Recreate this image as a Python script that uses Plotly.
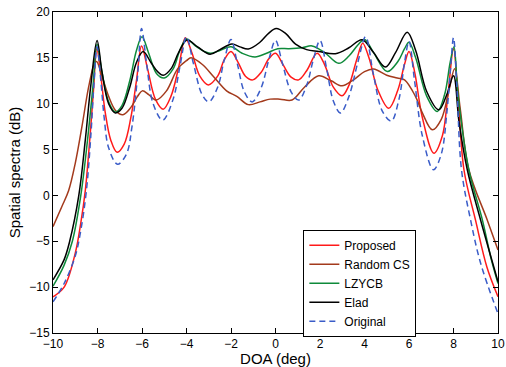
import plotly.graph_objects as go

# ---- data ----
orig_x = [-10, -9.5, -9.0, -8.75, -8.5, -8.3, -8.15, -8.02, -7.85, -7.7, -7.5, -7.1, -6.7, -6.45, -6.2, -6.02,
          -5.8, -5.5, -5.07, -4.6, -4.3, -4.0, -3.7, -3.3, -3.0, -2.6, -2.3, -2.0, -1.7, -1.4, -1.05, -0.65,
          -0.3, 0.0, 0.3, 0.7, 1.04, 1.4, 1.7, 2.0, 2.3, 2.6, 2.92, 3.3, 3.7, 4.05, 4.4, 4.8, 5.2, 5.55, 5.8,
          6.0, 6.25, 6.6, 7.1, 7.45, 7.7, 7.87, 8.0, 8.15, 8.36, 8.77, 9.22, 10]
orig_y = [-11.6, -9.6, -6.6, -3.8, 0.5, 6.5, 12.5, 16.2, 12.5, 8.5, 5.2, 3.4, 4.5, 7.5, 13.0, 18.2,
          14.5, 10.0, 8.2, 10.5, 14.0, 17.3, 14.5, 11.0, 10.2, 11.8, 14.8, 17.0, 14.2, 11.3, 10.2, 11.7,
          14.8, 16.9, 14.5, 11.3, 10.4, 12.0, 14.8, 16.9, 13.8, 10.3, 9.0, 10.8, 14.5, 17.3, 13.2, 9.2, 8.1, 10.5, 14.5,
          16.8, 12.5, 6.5, 2.8, 4.5, 9.0, 14.0, 17.2, 12.0, 2.8, -2.7, -7.4, -12.9]

prop_x = [-10, -9.5, -9.0, -8.75, -8.55, -8.35, -8.18, -8.03, -7.85, -7.65, -7.4, -7.12, -6.8, -6.5, -6.25, -6.02,
          -5.75, -5.4, -5.05, -4.7, -4.35, -4.05, -3.75, -3.4, -3.02, -2.6, -2.3, -2.0, -1.7, -1.35, -1.02, -0.65,
          -0.3, 0.0, 0.35, 0.7, 1.04, 1.4, 1.87, 2.2, 2.6, 2.99, 3.3, 3.65, 3.92, 4.2, 4.6, 5.09, 5.5, 5.8, 6.0,
          6.25, 6.6, 7.12, 7.5, 7.75, 8.0, 8.2, 8.47, 8.99, 9.5, 10]
prop_y = [-11.05, -10.0, -6.3, -3.0, 0.5, 6.0, 11.5, 16.0, 13.0, 9.0, 6.0, 4.7, 5.6, 8.5, 12.5, 16.3,
          13.8, 10.5, 9.4, 10.8, 14.0, 17.2, 15.5, 13.0, 12.05, 13.0, 14.8, 15.7, 14.6, 13.0, 12.6, 13.4,
          14.9, 15.5, 14.2, 12.9, 12.6, 13.6, 15.5, 14.3, 11.8, 10.86, 12.0, 14.8, 16.6, 15.0, 11.5, 9.5, 11.5, 14.3, 15.7,
          13.5, 8.5, 4.6, 6.5, 11.0, 16.0, 11.0, 2.8, -2.7, -7.8, -11.05]

rand_x = [-10, -9.6, -9.3, -9.0, -8.7, -8.4, -8.15, -8.04, -7.8, -7.5, -7.2, -6.86, -6.5, -6.2, -5.99, -5.7,
          -5.36, -4.9, -4.4, -4.0, -3.8, -3.3, -2.79, -2.2, -1.74, -1.22, -0.7, -0.24, 0.2, 0.74, 1.3, 1.94,
          2.5, 2.99, 3.5, 4.0, 4.41, 5.0, 5.47, 5.8, 6.29, 6.6, 7.05, 7.45, 7.8, 8.05, 8.3, 8.69, 9.52, 10]
rand_y = [-3.4, -1.2, 0.5, 3.5, 7.5, 11.8, 14.3, 14.6, 13.0, 10.8, 9.3, 8.8, 9.6, 10.8, 11.4, 11.0,
          10.4, 11.4, 13.8, 14.7, 15.0, 14.3, 12.97, 11.4, 10.8, 9.9, 10.2, 10.5, 10.5, 10.4, 11.8, 13.04,
          12.5, 11.95, 12.6, 13.5, 13.78, 13.1, 12.8, 12.6, 10.8, 9.0, 7.15, 8.3, 11.5, 13.8, 9.5, 2.8, -2.7, -5.95]

lzy_x = [-10, -9.5, -9.13, -8.75, -8.45, -8.2, -8.02, -7.8, -7.5, -7.2, -6.9, -6.55, -6.25, -6.0, -5.7, -5.35,
         -5.0, -4.6, -4.3, -4.0, -3.6, -3.2, -2.94, -2.5, -2.0, -1.5, -0.92, -0.4, 0.1, 0.6, 1.2, 1.64, 2.2,
         2.84, 3.3, 3.7, 4.0, 4.4, 5.02, 5.5, 5.8, 6.0, 6.3, 6.8, 7.27, 7.6, 7.85, 8.02, 8.2, 8.69, 9.3, 9.7, 10]
lzy_y = [-9.9, -7.6, -5.0, 0.0, 6.0, 12.0, 16.5, 13.5, 10.2, 9.1, 9.8, 12.5, 15.8, 17.3, 15.5, 13.3,
         12.8, 13.8, 15.8, 17.05, 16.3, 15.7, 15.5, 15.8, 16.2, 15.5, 15.1, 15.5, 16.0, 16.0, 16.1, 16.3, 15.6,
         14.4, 15.2, 16.4, 17.0, 15.6, 13.5, 14.6, 16.0, 16.7, 15.0, 10.8, 9.15, 11.0, 14.5, 16.2, 11.0, 2.8, -2.7, -7.0, -9.6]

elad_x = [-10, -9.5, -9.25, -8.84, -8.55, -8.3, -8.02, -7.8, -7.5, -7.2, -6.9, -6.55, -6.25, -5.95, -5.6, -5.3,
          -5.05, -4.7, -4.35, -3.98, -3.5, -2.94, -2.5, -1.96, -1.6, -1.22, -0.7, -0.3, 0.03, 0.44, 0.9, 1.4,
          1.94, 2.69, 3.3, 3.89, 4.4, 4.94, 5.4, 5.92, 6.3, 6.8, 7.34, 7.7, 8.0, 8.25, 8.62, 9.22, 10]
elad_y = [-9.2, -7.0, -5.0, 0.0, 6.0, 12.0, 16.9, 13.5, 10.0, 9.0, 9.5, 11.8, 14.5, 15.7, 14.5, 13.5,
          13.1, 13.8, 15.6, 16.95, 16.2, 15.4, 15.9, 16.5, 16.2, 15.96, 16.7, 17.7, 18.2, 17.7, 16.5, 15.9,
          15.7, 15.45, 16.1, 16.98, 15.6, 14.0, 15.6, 17.8, 15.8, 11.3, 9.33, 11.0, 13.05, 8.0, 2.8, -2.7, -9.4]

series = [
    ("Proposed", prop_x, prop_y, "#ff1a1a", "solid"),
    ("Random CS", rand_x, rand_y, "#a33a1c", "solid"),
    ("LZYCB", lzy_x, lzy_y, "#0e8a3a", "solid"),
    ("Elad", elad_x, elad_y, "#000000", "solid"),
    ("Original", orig_x, orig_y, "#3a5cc8", "6px,4px"),
]

x_ticks = [-10, -8, -6, -4, -2, 0, 2, 4, 6, 8, 10]
y_ticks = [-15, -10, -5, 0, 5, 10, 15, 20]

fig = go.Figure()
for name, xs, ys, col, dash in series:
    fig.add_trace(go.Scatter(x=xs, y=ys, mode="lines", name=name,
                             line=dict(color=col, width=1.5, dash=dash, shape="spline", smoothing=1.0)))

font = "Liberation Sans, Arial, sans-serif"
fig.update_layout(
    width=506, height=367,
    margin=dict(l=53, r=8, t=12, b=34, autoexpand=False),
    paper_bgcolor="white", plot_bgcolor="white",
    font=dict(family=font, size=12, color="black"),
    showlegend=True,
    legend=dict(x=0.5626, y=0.322, xanchor="left", yanchor="top",
                bgcolor="white", bordercolor="black", borderwidth=1,
                font=dict(size=12), tracegroupgap=0, itemwidth=30),
)
fig.update_xaxes(range=[-10, 10], tickvals=x_ticks, ticks="inside", ticklen=5, tickcolor="black",
                 showline=True, linecolor="black", linewidth=1, mirror="ticks", showgrid=False, zeroline=False,
                 automargin=False,
                 tickfont=dict(size=12), title=dict(text="DOA (deg)", font=dict(size=15), standoff=0))
fig.update_yaxes(range=[-15, 20], tickvals=y_ticks, ticks="inside", ticklen=5, tickcolor="black",
                 showline=True, linecolor="black", linewidth=1, mirror="ticks", showgrid=False, zeroline=False,
                 automargin=False,
                 tickfont=dict(size=12), title=dict(text="Spatial spectra (dB)", font=dict(size=15), standoff=4))

fig.write_html("out.html", config={"displayModeBar": False},
               post_script="document.body.style.margin='0';document.body.style.padding='0';")
